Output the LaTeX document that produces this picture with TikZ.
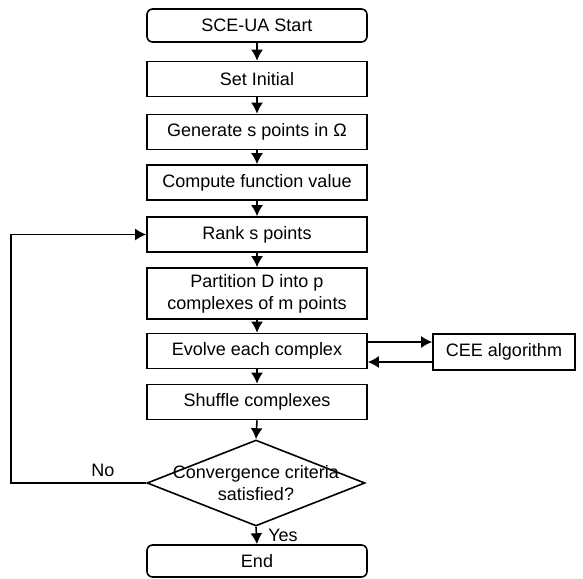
\documentclass[tikz,border=0pt]{standalone}
\usepackage{fontspec}
\setmainfont{Liberation Sans}
\usetikzlibrary{positioning, shapes.geometric, arrows.meta}
\newcommand{\flowFont}{\fontsize{18}{22}\selectfont}
\tikzstyle{chart} = [x = 1pt, y = -1pt]
\tikzstyle{boxStyle} = [draw = black, line width = 1.6pt, minimum width = 220pt, minimum height = 35pt, inner sep = 0pt, align = center, font = \flowFont]
\tikzstyle{endStyle} = [boxStyle, minimum height = 33pt, rounded corners = .2cm]
\tikzstyle{decisionStyle} = [diamond, draw = black, line width = 1.6pt, minimum width = 218pt, minimum height = 86pt, inner sep = 0pt]
\tikzstyle{arrowStyle} = [line width = 1.6pt, -{Latex[length = 11pt, width = 12pt]}]
\tikzstyle{labelText} = [font = \flowFont, inner sep = 0pt]
\newcommand{\xMid}{257}
\newcommand{\stepBox}[3]{\node [boxStyle] (#1) at (\xMid, #2) {#3};}

\begin{document}
\begin{tikzpicture}[chart]
        \useasboundingbox (0,0) rectangle (583,578);
        \node [endStyle] (start) at (\xMid, 25.5) {SCE-UA Start};
        \stepBox{init}{79}{Set Initial}
        \stepBox{generate}{132}{Generate s points in Ω}
        \stepBox{compute}{182.5}{Compute function value}
        \stepBox{rank}{234.5}{Rank s points}
        \node [boxStyle, minimum height = 51pt] (partition) at (\xMid, 293.5) {Partition D into p\\complexes of m points};
        \stepBox{evolve}{351}{Evolve each complex}
        \stepBox{shuffle}{402}{Shuffle complexes}
        \node [decisionStyle, label = {[labelText, align = center]center:Convergence criteria\\satisfied?}] (check) at (256, 483) {};
        \node [endStyle, minimum height = 32pt] (finish) at (\xMid, 561) {End};
        \node [boxStyle, minimum width = 142pt, minimum height = 36pt] (cee) at (504, 352) {CEE algorithm};
        \coordinate (loopLine) at (11, 0);

        \foreach \from/\to in {start/init, init/generate, generate/compute, compute/rank, rank/partition, partition/evolve, evolve/shuffle, shuffle/check} {
          \draw [arrowStyle] (\from.south) -- (\to.north);
        }
        \draw [arrowStyle] (check.south) -- (finish.north) node [labelText, midway, right = 11pt] {Yes};
        \draw [arrowStyle] ([yshift = 9pt]evolve.east) -- ([yshift = 9pt]evolve.east -| cee.west);
        \draw [arrowStyle] ([yshift = -10pt]cee.west) -- ([yshift = -10pt]cee.west -| evolve.east);
        \draw [arrowStyle] (check.west) -- node [labelText, above = 6pt, pos = .32] {No} (check.west -| loopLine) |- (rank.west);
      \end{tikzpicture}
\end{document}
